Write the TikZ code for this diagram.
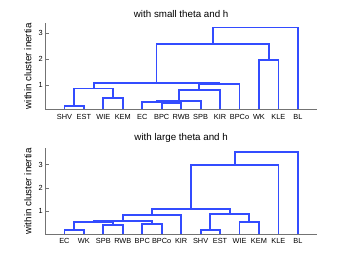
\documentclass[tikz,border=0pt]{standalone}
\usepackage{fontspec}
\setmainfont{Liberation Sans}
\usetikzlibrary{positioning}

\definecolor{dendroblue}{rgb}{0.2,0.3,1}
\tikzset{
  dlink/.style={draw=dendroblue, line width=1.8bp},
  axisline/.style={draw=black!55, line width=0.6bp},
  leaflabel/.style={font=\fontsize{7.4}{8}\selectfont, inner sep=0pt},
  ticklabel/.style={font=\fontsize{7.4}{8}\selectfont, inner sep=0pt, anchor=east},
  plottitle/.style={font=\fontsize{9.8}{11}\selectfont, inner sep=0pt},
  ylab/.style={font=\fontsize{9.8}{11}\selectfont, inner sep=0pt, rotate=90},
}
% one U of the dendrogram: left child, right child, merge height
\newcommand{\dlink}[5]{\draw[dlink] (#1,#2) |- (#3,#5) -- (#3,#4);}

\begin{document}
\begin{tikzpicture}
\useasboundingbox (0,0) rectangle (350bp,264bp);

% upper dendrogram
\begin{scope}[shift={(45bp,152.7bp)}, x=19.45bp, y=26bp]
\draw[axisline] (0,3.385) -- (0,0.077) -- (14,0.077);
\foreach \t in {1,2,3} {
  \draw[axisline] (0,\t) -- ++(4bp,0);
  \node[ticklabel] (utick\t) at ([xshift=-2bp]0,\t) {\t};
}
\foreach \lab [count=\i] in {SHV,EST,WIE,KEM,EC,BPC,RWB,SPB,KIR,BPCo,WK,KLE,BL} {
  \node[leaflabel] (uleaf\i) at ([yshift=-8bp]\i,0.077) {\lab};
}
\node[plottitle] (utitle) at (7,3.74) {with small theta and h};
\node[ylab] (uylabel) at ([xshift=-17bp]0,1.73) {within cluster inertia};

\dlink{1}{0.077}{2}{0.077}{0.2}
\dlink{3}{0.077}{4}{0.077}{0.5}
\dlink{1.5}{0.2}{3.5}{0.5}{0.88}
\dlink{6}{0.077}{7}{0.077}{0.33}
\dlink{5}{0.077}{6.5}{0.33}{0.37}
\dlink{5.75}{0.37}{8}{0.077}{0.41}
\dlink{6.875}{0.41}{9}{0.077}{0.82}
\dlink{7.9375}{0.82}{10}{0.077}{1.05}
\dlink{2.5}{0.88}{8.96875}{1.05}{1.10}
\dlink{11}{0.077}{12}{0.077}{1.97}
\dlink{5.734375}{1.10}{11.5}{1.97}{2.58}
\dlink{8.6171875}{2.58}{13}{0.077}{3.22}
\end{scope}

% lower dendrogram
\begin{scope}[shift={(45bp,29.7bp)}, x=19.45bp, y=23.2bp]
\draw[axisline] (0,3.7) -- (0,0) -- (14,0);
\foreach \t in {1,2,3} {
  \draw[axisline] (0,\t) -- ++(4bp,0);
  \node[ticklabel] (ltick\t) at ([xshift=-2bp]0,\t) {\t};
}
\foreach \lab [count=\i] in {EC,WK,SPB,RWB,BPC,BPCo,KIR,SHV,EST,WIE,KEM,KLE,BL} {
  \node[leaflabel] (lleaf\i) at ([yshift=-7bp]\i,0) {\lab};
}
\node[plottitle] (ltitle) at (7,4.15) {with large theta and h};
\node[ylab] (lylabel) at ([xshift=-17bp]0,1.85) {within cluster inertia};

\dlink{1}{0}{2}{0}{0.17}
\dlink{3}{0}{4}{0}{0.39}
\dlink{5}{0}{6}{0}{0.46}
\dlink{1.5}{0.17}{3.5}{0.39}{0.53}
\dlink{2.5}{0.53}{5.5}{0.46}{0.56}
\dlink{4}{0.56}{7}{0}{0.82}
\dlink{8}{0}{9}{0}{0.2}
\dlink{10}{0}{11}{0}{0.53}
\dlink{8.5}{0.2}{10.5}{0.53}{0.89}
\dlink{5.5}{0.82}{9.5}{0.89}{1.10}
\dlink{7.5}{1.10}{12}{0}{2.97}
\dlink{9.75}{2.97}{13}{0}{3.55}
\end{scope}
\end{tikzpicture}
\end{document}
